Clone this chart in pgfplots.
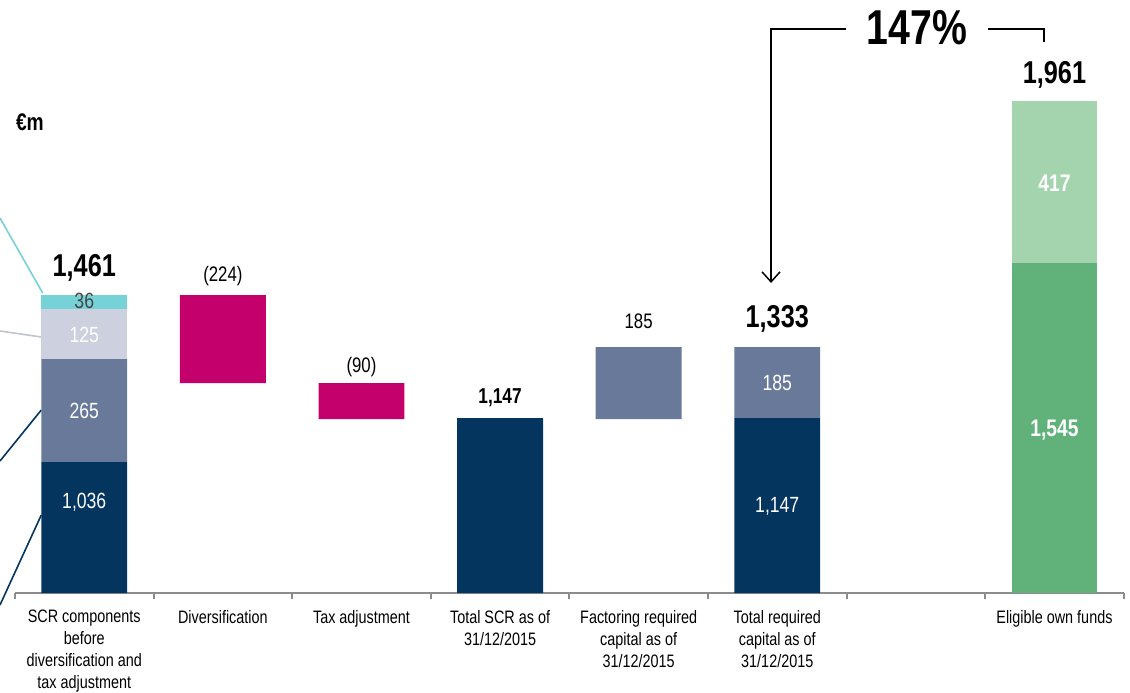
\documentclass[border=0pt]{standalone}
\usepackage{fontspec}
\setmainfont{Liberation Sans}[FakeStretch=0.8]
\usepackage{pgfplots}
\pgfplotsset{compat=1.18}
\usetikzlibrary{arrows.meta}

\definecolor{navy}{RGB}{3,53,94}
\definecolor{slate}{RGB}{105,121,154}
\definecolor{lavender}{RGB}{205,208,222}
\definecolor{cyanish}{RGB}{117,210,214}
\definecolor{magenta}{RGB}{196,0,108}
\definecolor{lightgreen}{RGB}{164,212,174}
\definecolor{green}{RGB}{96,178,122}
\definecolor{axisgray}{RGB}{140,140,140}
\definecolor{darktext}{RGB}{70,70,70}

\begin{document}
\begin{tikzpicture}
% the bars are drawn as in the picture (not to scale); heights in picture units
\begin{axis}[
  width=565pt, height=296.5pt, scale only axis,
  xmin=-0.608, xmax=7.545, ymin=0, ymax=593,
  ybar stacked, bar width=0.62,
  clip=false,
  hide y axis,
  axis x line*=bottom,
  x axis line style={draw=none},
  xtick={0,...,7},
  major tick length=0pt,
  xticklabels={{SCR components\\before\\diversification and\\tax adjustment},
    Diversification, Tax adjustment, {Total SCR as of\\31/12/2015},
    {Factoring required\\capital as of\\31/12/2015},
    {Total required\\capital as of\\31/12/2015}, {}, Eligible own funds},
  xticklabel style={align=center, anchor=north, yshift=-5pt,
    font=\fontsize{9}{11}\selectfont},
]
% invisible base of the floating bars
\addplot[draw=none, fill=none] coordinates {(0,0) (1,210) (2,174) (3,0) (4,174) (5,0) (6,0) (7,0)};
\addplot[draw=none, fill=navy] coordinates {(0,131) (1,0) (2,0) (3,175) (4,0) (5,175) (6,0) (7,0)};
\addplot[draw=none, fill=slate] coordinates {(0,103) (1,0) (2,0) (3,0) (4,72) (5,71) (6,0) (7,0)};
\addplot[draw=none, fill=lavender] coordinates {(0,50) (1,0) (2,0) (3,0) (4,0) (5,0) (6,0) (7,0)};
\addplot[draw=none, fill=cyanish] coordinates {(0,14) (1,0) (2,0) (3,0) (4,0) (5,0) (6,0) (7,0)};
\addplot[draw=none, fill=magenta] coordinates {(0,0) (1,88) (2,36) (3,0) (4,0) (5,0) (6,0) (7,0)};
\addplot[draw=none, fill=green] coordinates {(0,0) (1,0) (2,0) (3,0) (4,0) (5,0) (6,0) (7,330)};
\addplot[draw=none, fill=lightgreen] coordinates {(0,0) (1,0) (2,0) (3,0) (4,0) (5,0) (6,0) (7,162)};

% x axis line and separators
\draw[axisgray, line width=1pt] (axis cs:-0.5,0) -- (axis cs:7.5,0);
\pgfplotsinvokeforeach{-0.5,0.5,...,7.5}{
  \draw[axisgray, line width=1pt] (axis cs:#1,0) -- (axis cs:#1,-6);
}

% callout lines from the left
\draw[cyanish, line width=0.8pt] (axis cs:-0.608,375) -- (axis cs:-0.3,300);
\draw[lavender!85!gray, line width=0.8pt] (axis cs:-0.608,262) -- (axis cs:-0.31,256);
\draw[navy, line width=0.8pt] (axis cs:-0.608,132) -- (axis cs:-0.31,183);
\draw[navy, line width=0.8pt] (axis cs:-0.608,-12) -- (axis cs:-0.31,78);

% coverage ratio bracket
\draw[black, line width=0.75pt, -{Straight Barb[length=5pt,width=9pt]}]
  (axis cs:5.496,564) -- (axis cs:4.955,564) -- (axis cs:4.955,310);
\draw[black, line width=0.75pt]
  (axis cs:6.52,564) -- (axis cs:6.924,564) -- (axis cs:6.924,551);

% label anchors (placed after the axis so they sit above the bars)
\coordinate (t0) at (axis cs:0,325);
\coordinate (t3) at (axis cs:3,195);
\coordinate (t5) at (axis cs:5,274);
\coordinate (t7) at (axis cs:7,518);
\coordinate (m1) at (axis cs:1,317);
\coordinate (m2) at (axis cs:2,226);
\coordinate (m4) at (axis cs:4,272);
\coordinate (s0a) at (axis cs:0,91);
\coordinate (s0b) at (axis cs:0,182);
\coordinate (s0c) at (axis cs:0,258);
\coordinate (s0d) at (axis cs:0,292);
\coordinate (s5a) at (axis cs:5,87);
\coordinate (s5b) at (axis cs:5,210);
\coordinate (s7a) at (axis cs:7,163);
\coordinate (s7b) at (axis cs:7,410);
\coordinate (unit) at (axis cs:-0.392,471);
\coordinate (pct) at (axis cs:6.007,565);
\end{axis}

% totals
\node[font=\bfseries\fontsize{15.8}{16}\selectfont] at (t0) {1,461};
\node[font=\bfseries\fontsize{10.8}{12}\selectfont] at (t3) {1,147};
\node[font=\bfseries\fontsize{15.8}{16}\selectfont] at (t5) {1,333};
\node[font=\bfseries\fontsize{15.8}{16}\selectfont] at (t7) {1,961};
% movements
\node[font=\fontsize{10.5}{12}\selectfont] at (m1) {(224)};
\node[font=\fontsize{10.5}{12}\selectfont] at (m2) {(90)};
\node[font=\fontsize{10.5}{12}\selectfont] at (m4) {185};
% segment values
\node[white, font=\fontsize{11}{12}\selectfont] at (s0a) {1,036};
\node[white, font=\fontsize{11}{12}\selectfont] at (s0b) {265};
\node[white, font=\fontsize{11}{12}\selectfont] at (s0c) {125};
\node[darktext, font=\fontsize{11}{12}\selectfont] at (s0d) {36};
\node[white, font=\fontsize{11}{12}\selectfont] at (s5a) {1,147};
\node[white, font=\fontsize{11}{12}\selectfont] at (s5b) {185};
\node[white, font=\bfseries\fontsize{12}{13}\selectfont] at (s7a) {1,545};
\node[white, font=\bfseries\fontsize{12}{13}\selectfont] at (s7b) {417};
% unit and ratio
\node[font=\bfseries\fontsize{12}{13}\selectfont] at (unit) {€m};
\node[font=\bfseries\fontsize{24.5}{26}\selectfont] at (pct) {147\%};

\pgfresetboundingbox
\path (0,-49.5pt) rectangle (565pt,296.5pt);
\end{tikzpicture}
\end{document}
